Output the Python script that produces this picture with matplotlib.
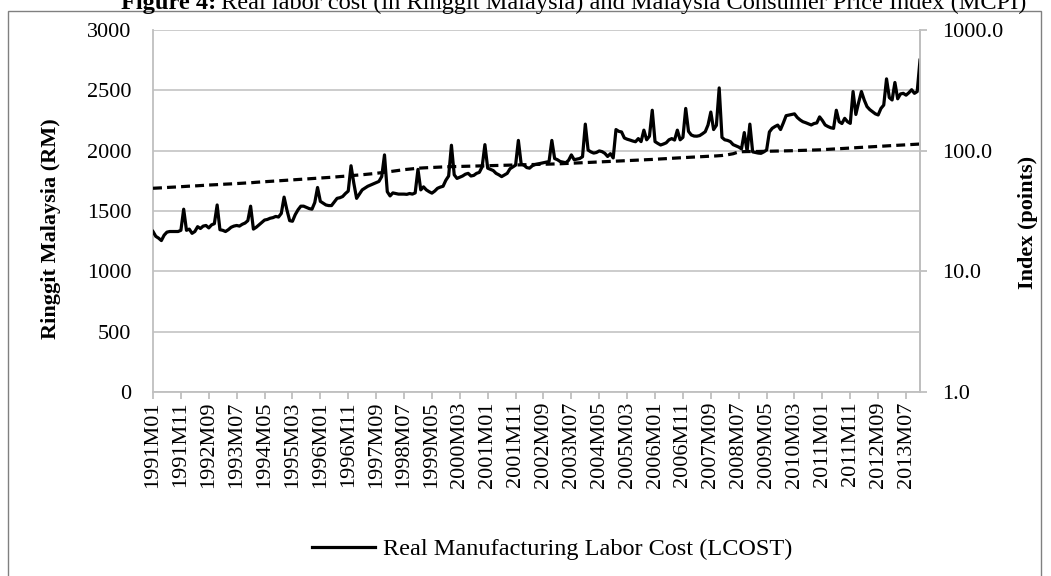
import matplotlib
matplotlib.use("Agg")
import matplotlib.pyplot as plt
import numpy as np
from matplotlib.patches import Rectangle
from matplotlib.ticker import NullLocator

plt.rcParams["font.family"] = ["Liberation Serif", "DejaVu Serif"]

# ── Data: monthly, 1991M01 .. 2013M12 ────────────────────────────────────────

# Real manufacturing labour cost (RM), one row per year
LCOST = [
    1330, 1290, 1275, 1255, 1300, 1325, 1330, 1330, 1330, 1330, 1340, 1515,  # 1991
    1340, 1350, 1315, 1330, 1370, 1355, 1375, 1380, 1360, 1385, 1395, 1550,  # 1992
    1345, 1340, 1330, 1345, 1365, 1375, 1380, 1375, 1390, 1400, 1420, 1540,  # 1993
    1350, 1365, 1385, 1405, 1425, 1430, 1440, 1445, 1455, 1450, 1480, 1615,  # 1994
    1510, 1420, 1415, 1470, 1510, 1540, 1540, 1530, 1520, 1515, 1570, 1695,  # 1995
    1580, 1565, 1550, 1545, 1545, 1575, 1605, 1610, 1620, 1645, 1665, 1875,  # 1996
    1730, 1605, 1640, 1675, 1690, 1705, 1715, 1725, 1735, 1745, 1785, 1965,  # 1997
    1660, 1625, 1650, 1645, 1640, 1640, 1640, 1638, 1645, 1640, 1650, 1845,  # 1998
    1675, 1700, 1675, 1660, 1648, 1665, 1688, 1698, 1705, 1755, 1790, 2045,  # 1999
    1800, 1770, 1780, 1790, 1805, 1812, 1790, 1795, 1812, 1820, 1865, 2050,  # 2000
    1855, 1845, 1835, 1812, 1800, 1785, 1798, 1812, 1850, 1865, 1880, 2085,  # 2001
    1890, 1880, 1860, 1855, 1875, 1885, 1890, 1895, 1900, 1905, 1910, 2085,  # 2002
    1935, 1925, 1910, 1905, 1900, 1920, 1965, 1925, 1930, 1935, 1950, 2220,  # 2003
    2005, 1990, 1980, 1985, 1998, 1992, 1978, 1952, 1975, 1940, 2175, 2160,  # 2004
    2155, 2105, 2095, 2088, 2080, 2074, 2100, 2075, 2170, 2090, 2120, 2335,  # 2005
    2075, 2060, 2047, 2055, 2065, 2090, 2100, 2088, 2170, 2090, 2110, 2350,  # 2006
    2160, 2130, 2121, 2120, 2125, 2140, 2157, 2213, 2320, 2175, 2210, 2520,  # 2007
    2110, 2090, 2085, 2075, 2050, 2040, 2030, 2015, 2150, 1995, 2220, 1990,  # 2008
    1985, 1980, 1978, 1990, 2005, 2155, 2185, 2200, 2212, 2175, 2230, 2290,  # 2009
    2295, 2300, 2305, 2275, 2255, 2240, 2232, 2222, 2213, 2225, 2230, 2280,  # 2010
    2250, 2213, 2200, 2190, 2185, 2335, 2240, 2225, 2268, 2240, 2226, 2490,  # 2011
    2300, 2400, 2490, 2420, 2365, 2340, 2323, 2305, 2296, 2350, 2378, 2595,  # 2012
    2440, 2420, 2565, 2430, 2470, 2475, 2460, 2480, 2505, 2475, 2490, 2750,  # 2013
]

# Malaysia consumer price index (points), secondary log axis
MCPI = [
    48.8, 48.9, 49.1, 49.2, 49.4, 49.5, 49.7, 49.8, 50.0, 50.1, 50.3, 50.4,  # 1991
    50.6, 50.8, 50.9, 51.1, 51.2, 51.4, 51.6, 51.7, 51.9, 52.0, 52.2, 52.3,  # 1992
    52.5, 52.6, 52.8, 52.9, 53.1, 53.2, 53.4, 53.6, 53.7, 53.9, 54.0, 54.2,  # 1993
    54.5, 54.7, 54.9, 55.1, 55.3, 55.5, 55.7, 55.9, 56.1, 56.3, 56.5, 56.7,  # 1994
    56.9, 57.1, 57.3, 57.5, 57.7, 57.9, 58.1, 58.3, 58.5, 58.7, 58.9, 59.1,  # 1995
    59.3, 59.5, 59.8, 60.0, 60.2, 60.5, 60.7, 61.0, 61.2, 61.5, 61.8, 62.0,  # 1996
    62.3, 62.6, 62.9, 63.2, 63.5, 63.8, 64.1, 64.5, 64.9, 65.3, 65.7, 66.1,  # 1997
    66.6, 67.1, 67.6, 68.1, 68.6, 69.1, 69.6, 70.0, 70.4, 70.8, 71.2, 71.5,  # 1998
    71.8, 72.0, 72.2, 72.4, 72.6, 72.8, 73.0, 73.2, 73.4, 73.5, 73.6, 73.7,  # 1999
    73.8, 73.9, 74.0, 74.1, 74.2, 74.3, 74.4, 74.5, 74.6, 74.7, 74.8, 74.9,  # 2000
    75.0, 75.1, 75.2, 75.3, 75.4, 75.5, 75.6, 75.7, 75.8, 75.9, 76.0, 76.1,  # 2001
    76.2, 76.3, 76.4, 76.5, 76.6, 76.7, 76.8, 76.9, 77.0, 77.1, 77.2, 77.3,  # 2002
    77.5, 77.7, 77.9, 78.1, 78.3, 78.5, 78.7, 78.9, 79.1, 79.3, 79.5, 79.7,  # 2003
    79.9, 80.1, 80.3, 80.5, 80.7, 80.9, 81.1, 81.3, 81.5, 81.7, 81.9, 82.1,  # 2004
    82.3, 82.5, 82.7, 82.9, 83.1, 83.3, 83.6, 83.8, 84.0, 84.2, 84.4, 84.6,  # 2005
    84.9, 85.1, 85.4, 85.6, 85.9, 86.2, 86.4, 86.7, 87.0, 87.2, 87.5, 87.8,  # 2006
    88.0, 88.3, 88.5, 88.8, 89.0, 89.3, 89.5, 89.8, 90.0, 90.3, 90.5, 90.8,  # 2007
    91.2, 91.8, 92.5, 93.3, 94.3, 96.0, 97.5, 98.0, 98.2, 98.3, 98.3, 98.4,  # 2008
    98.4, 98.5, 98.6, 98.7, 98.8, 98.9, 99.0, 99.1, 99.2, 99.3, 99.4, 99.5,  # 2009
    99.7, 99.9, 100.1, 100.3, 100.5, 100.7, 100.9, 101.0, 101.1, 101.2, 101.4, 101.6,  # 2010
    101.9, 102.2, 102.6, 102.9, 103.2, 103.5, 103.9, 104.2, 104.5, 104.8, 105.2, 105.5,  # 2011
    105.8, 106.2, 106.5, 106.8, 107.2, 107.5, 107.8, 108.2, 108.5, 108.8, 109.2, 109.5,  # 2012
    109.8, 110.2, 110.5, 110.8, 111.2, 111.5, 111.8, 112.2, 112.5, 112.8, 113.2, 113.5,  # 2013
]

# every tenth month is labelled on the category axis
TICK_LABELS = [
    "1991M01", "1991M11", "1992M09", "1993M07", "1994M05", "1995M03", "1996M01",
    "1996M11", "1997M09", "1998M07", "1999M05", "2000M03", "2001M01", "2001M11",
    "2002M09", "2003M07", "2004M05", "2005M03", "2006M01", "2006M11", "2007M09",
    "2008M07", "2009M05", "2010M03", "2011M01", "2011M11", "2012M09", "2013M07",
]
LEFT_TICKS = [0, 500, 1000, 1500, 2000, 2500, 3000]
RIGHT_TICKS = [1, 10, 100, 1000]
RIGHT_TICK_LABELS = ["1.0", "10.0", "100.0", "1000.0"]

# ── Plot ─────────────────────────────────────────────────────────────────────

W, H = 1051, 576
GRID = "#c8c8c8"
AXIS = "#bfbfbf"
FS = 16

fig = plt.figure(figsize=(W / 100, H / 100), dpi=100)
ax = fig.add_axes([153 / W, 1 - 392 / H, 767 / W, 362 / H])
ax2 = ax.twinx()

x = np.arange(len(LCOST))
line, = ax.plot(x, LCOST, color="black", lw=2.3, solid_joinstyle="round", zorder=3)
ax2.plot(x, MCPI, color="black", lw=2.3, dashes=(2.8, 1.6))

ax.set_xlim(0, len(LCOST) - 1)
ax.set_ylim(0, 3000)
ax.set_yticks(LEFT_TICKS)
ax.grid(axis="y", color=GRID, lw=1.3)
ax.set_axisbelow(True)

ax.set_xticks(np.arange(len(TICK_LABELS)) * 10)
ax.set_xticklabels(TICK_LABELS, rotation=90)
ax.tick_params(axis="x", direction="out", length=5, width=1.3, color=AXIS,
               labelsize=FS, pad=2)
ax.tick_params(axis="y", length=0, labelsize=FS, pad=15.5)

ax2.set_yscale("log")
ax2.set_ylim(1, 1000)
ax2.set_yticks(RIGHT_TICKS)
ax2.set_yticklabels(RIGHT_TICK_LABELS)
ax2.yaxis.set_minor_locator(NullLocator())
ax2.tick_params(axis="y", direction="out", length=5, width=1.3, color=AXIS,
                labelsize=FS, pad=11)

for a in (ax, ax2):
    a.spines["top"].set_visible(False)
    for s in ("left", "right", "bottom"):
        a.spines[s].set_color(AXIS)
        a.spines[s].set_linewidth(1.3)
ax2.spines["left"].set_visible(False)
ax2.spines["bottom"].set_visible(False)

fig.text(51 / W, 1 - 229 / H, "Ringgit Malaysia (RM)", rotation=90,
         ha="center", va="center", fontsize=FS, fontweight="bold")
fig.text(1028 / W, 1 - 222 / H, "Index (points)", rotation=90,
         ha="center", va="center", fontsize=FS, fontweight="bold")

fig.legend([line], ["Real Manufacturing Labor Cost (LCOST)"], loc="center",
           bbox_to_anchor=(552 / W, 1 - 549 / H), frameon=False, fontsize=17.5,
           handlelength=2.6, handletextpad=0.3)

# chart frame, its bottom edge falls below the image
fig.patches.append(Rectangle((8 / W, -0.05), (1041 - 8) / W, 0.05 + 1 - 11 / H,
                             transform=fig.transFigure, fill=False,
                             edgecolor="#808080", lw=1.0))

# caption: bold figure number followed by regular text, top part cut off
renderer = fig.canvas.get_renderer()
base_y = 1 - 9 / H
t1 = fig.text(0, base_y, "Figure 4:", fontsize=17.6, fontweight="bold",
              va="baseline", ha="left")
t2 = fig.text(0, base_y,
              "Real labor cost (in Ringgit Malaysia) and Malaysia Consumer Price Index (MCPI)",
              fontsize=17.6, va="baseline", ha="left")
w1 = t1.get_window_extent(renderer).width
w2 = t2.get_window_extent(renderer).width
gap = 5
x0 = 574 - (w1 + gap + w2) / 2
t1.set_x(x0 / W)
t2.set_x((x0 + w1 + gap) / W)

fig.savefig("out.png", dpi=100)
